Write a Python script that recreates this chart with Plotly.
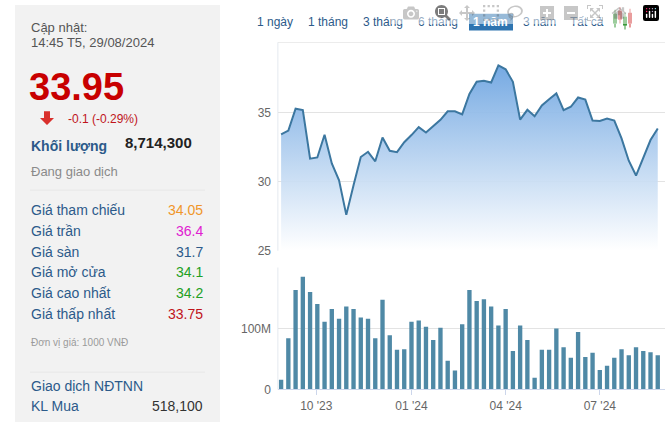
import plotly.graph_objects as go
import pandas as pd

dates = pd.date_range("2023-08-28", periods=53, freq="7D")
price = [33.43,33.71,35.29,35.19,31.67,31.76,33.40,31.33,30.1,27.6,29.74,31.79,32.17,31.48,33.2,32.24,32.14,32.86,33.38,33.95,33.57,34.0,34.48,35.1,35.1,34.88,36.36,37.24,37.31,37.19,38.43,38.14,37.24,34.5,35.21,34.74,35.52,35.98,36.4,35.19,35.43,36.1,35.95,34.43,34.4,34.57,34.43,33.14,31.52,30.45,31.79,33.02,33.86]
volume_m = [16,84,163,185,160,140,111,132,116,136,132,118,116,84,147,89,65,66,111,113,103,81,101,47,31,107,163,145,148,136,105,132,63,105,81,19,65,65,100,69,52,94,53,60,32,39,52,66,56,69,63,61,56]
volume = [v*1e6 for v in volume_m]
price_ticks = [25, 30, 35]
vol_ticks = [0, 100e6]
vol_tick_text = ["0", "100M"]
x_ticks = ["2023-10-01", "2024-01-01", "2024-04-01", "2024-07-01"]
x_tick_text = ["10 '23", "01 '24", "04 '24", "07 '24"]
base = 25

W, H = 665, 422
fig = go.Figure()
fig.add_trace(go.Scatter(x=dates, y=[base]*len(dates), mode="lines", line=dict(width=0), hoverinfo="skip", xaxis="x", yaxis="y"))
fig.add_trace(go.Scatter(x=dates, y=price, mode="lines", line=dict(color="#3c77a0", width=2), fill="tonexty",
                         fillgradient=dict(type="vertical", colorscale=[[0, "rgba(255,255,255,0.9)"], [1, "rgba(110,165,225,0.95)"]]),
                         xaxis="x", yaxis="y"))
fig.add_trace(go.Bar(x=dates, y=volume, marker=dict(color="#4f89a6", line=dict(width=0)), width=4.2*86400000, xaxis="x2", yaxis="y2"))

xr = ["2023-08-25", "2024-09-02"]
xd = [278/W, 1.0]
fig.update_layout(
    width=W, height=H, margin=dict(l=0, r=0, t=0, b=0), showlegend=False,
    paper_bgcolor="white", plot_bgcolor="white",
    font=dict(family="Liberation Sans, Arial", color="#555"),
    xaxis=dict(domain=xd, range=xr, showticklabels=False, showgrid=False, zeroline=False, anchor="y"),
    yaxis=dict(domain=[1-255/H, 1-43/H], range=[25, 40.1], tickvals=price_ticks, gridcolor="#e3e3e3",
               zeroline=False, tickfont=dict(size=12, color="#666"), ticklabelstandoff=6, anchor="x",
               showline=False),
    xaxis2=dict(domain=xd, range=xr, tickvals=x_ticks, ticktext=x_tick_text, showgrid=False, anchor="y2",
                showline=True, linecolor="#ccd6eb", ticks="outside", tickcolor="#ccd6eb", ticklen=5,
                tickfont=dict(size=12, color="#666")),
    yaxis2=dict(domain=[1-396/H, 1-272/H], range=[0, 200e6], tickvals=vol_ticks, ticktext=vol_tick_text,
                gridcolor="#e3e3e3", zeroline=False, tickfont=dict(size=12, color="#666"), ticklabelstandoff=6, anchor="x2"),
)

shapes = []
def px_rect(x0, y0, x1, y1, **kw):
    shapes.append(dict(type="rect", xref="paper", yref="paper", x0=x0/W, x1=x1/W, y0=1-y1/H, y1=1-y0/H, **kw))
px_rect(15, 5, 220, 430, fillcolor="#f2f2f2", line=dict(width=0), layer="below")
px_rect(30, 193, 205, 193.8, fillcolor="#e4e4e4", line=dict(width=0))
px_rect(30, 378, 205, 378.8, fillcolor="#e4e4e4", line=dict(width=0))
px_rect(277.5, 43, 278.3, 255, fillcolor="#dde3ec", line=dict(width=0))
px_rect(277.5, 272, 278.3, 396, fillcolor="#dde3ec", line=dict(width=0))
px_rect(278, 43, 665, 43.8, fillcolor="#e6e6e6", line=dict(width=0))
shapes.append(dict(type="rect", xref="paper", yref="paper", x0=469/W, x1=513/W, y0=1-31/H, y1=1-14/H,
                   fillcolor="#2e74b0", line=dict(width=0)))
def P(x, y): return f"{x/W},{1-y/H}"
ax, ay = 47, 113
path = f"M{P(ax-3,ay)} L{P(ax+3,ay)} L{P(ax+3,ay+7)} L{P(ax+7,ay+7)} L{P(ax,ay+14)} L{P(ax-7,ay+7)} L{P(ax-3,ay+7)} Z"
shapes.append(dict(type="path", xref="paper", yref="paper", path=path, fillcolor="#d9302c", line=dict(width=0)))
for cx, y0, y1, c in [(615, 12, 26, "#3a9a3a"), (620, 9, 22, "#d23a3a"), (625, 15, 28, "#3a9a3a"), (630, 11, 26, "#d23a3a")]:
    px_rect(cx-0.5, y0-2, cx+0.5, y1+2, fillcolor=c, line=dict(width=0))
    px_rect(cx-2, y0+2, cx+2, y1-2, fillcolor=c, line=dict(width=0))
fig.update_layout(shapes=shapes)

ann = []
def T(x, y, text, size=13, color="#555", anchor="left", bold=False, family=None):
    d = dict(xref="paper", yref="paper", x=x/W, y=1-y/H, text=f"<b>{text}</b>" if bold else text, showarrow=False,
             xanchor=anchor, yanchor="middle", font=dict(size=size, color=color))
    if family: d["font"]["family"] = family
    ann.append(d)
T(29, 28, "Cập nhật:", 13, "#555")
T(29, 43, "14:45 T5, 29/08/2024", 13, "#555")
T(27, 88, "33.95", 38, "#c80000", bold=True, family="Liberation Sans, Arial")
T(66, 121, "-0.1 (-0.29%)", 12, "#c0141b")
T(29, 148, "Khối lượng", 14, "#2c5a8a", bold=True)
T(123, 145, "8,714,300", 15, "#222", bold=True)
T(29, 174, "Đang giao dịch", 13, "#8a8a8a")
labels = ["Giá tham chiếu", "Giá trần", "Giá sàn", "Giá mở cửa", "Giá cao nhất", "Giá thấp nhất"]
values = ["34.05", "36.4", "31.7", "34.1", "34.2", "33.75"]
colors = ["#f0962a", "#e020d0", "#2c5a8a", "#22a022", "#22a022", "#c0141b"]
for i, (l, v, c) in enumerate(zip(labels, values, colors)):
    y = 214 + i*21
    T(29, y, l, 14, "#2c5a8a")
    T(205, y, v, 14, c, anchor="right")
T(29, 348, "Đơn vị giá: 1000 VNĐ", 10, "#9a9a9a")
T(29, 393, "Giao dịch NĐTNN", 14, "#2c5a8a")
T(29, 413, "KL Mua", 14, "#2c5a8a")
T(205, 413, "518,100", 14, "#333", anchor="right")
for x, t in [(275, "1 ngày"), (328, "1 tháng"), (383, "3 tháng"), (438, "6 tháng"), (539, "3 năm"), (587, "Tất cả")]:
    T(x, 22, t, 12, "#2c5a8a", anchor="center")
T(491, 22, "1 năm", 12, "white", anchor="center", bold=True)
fig.update_layout(annotations=ann)

fig.write_html("out.html")
with open("out.html", encoding="utf-8") as f:
    html = f.read()
html = html.replace("<body>", '<body style="margin:0;padding:0;overflow:hidden">', 1)
with open("out.html", "w", encoding="utf-8") as f:
    f.write(html)
